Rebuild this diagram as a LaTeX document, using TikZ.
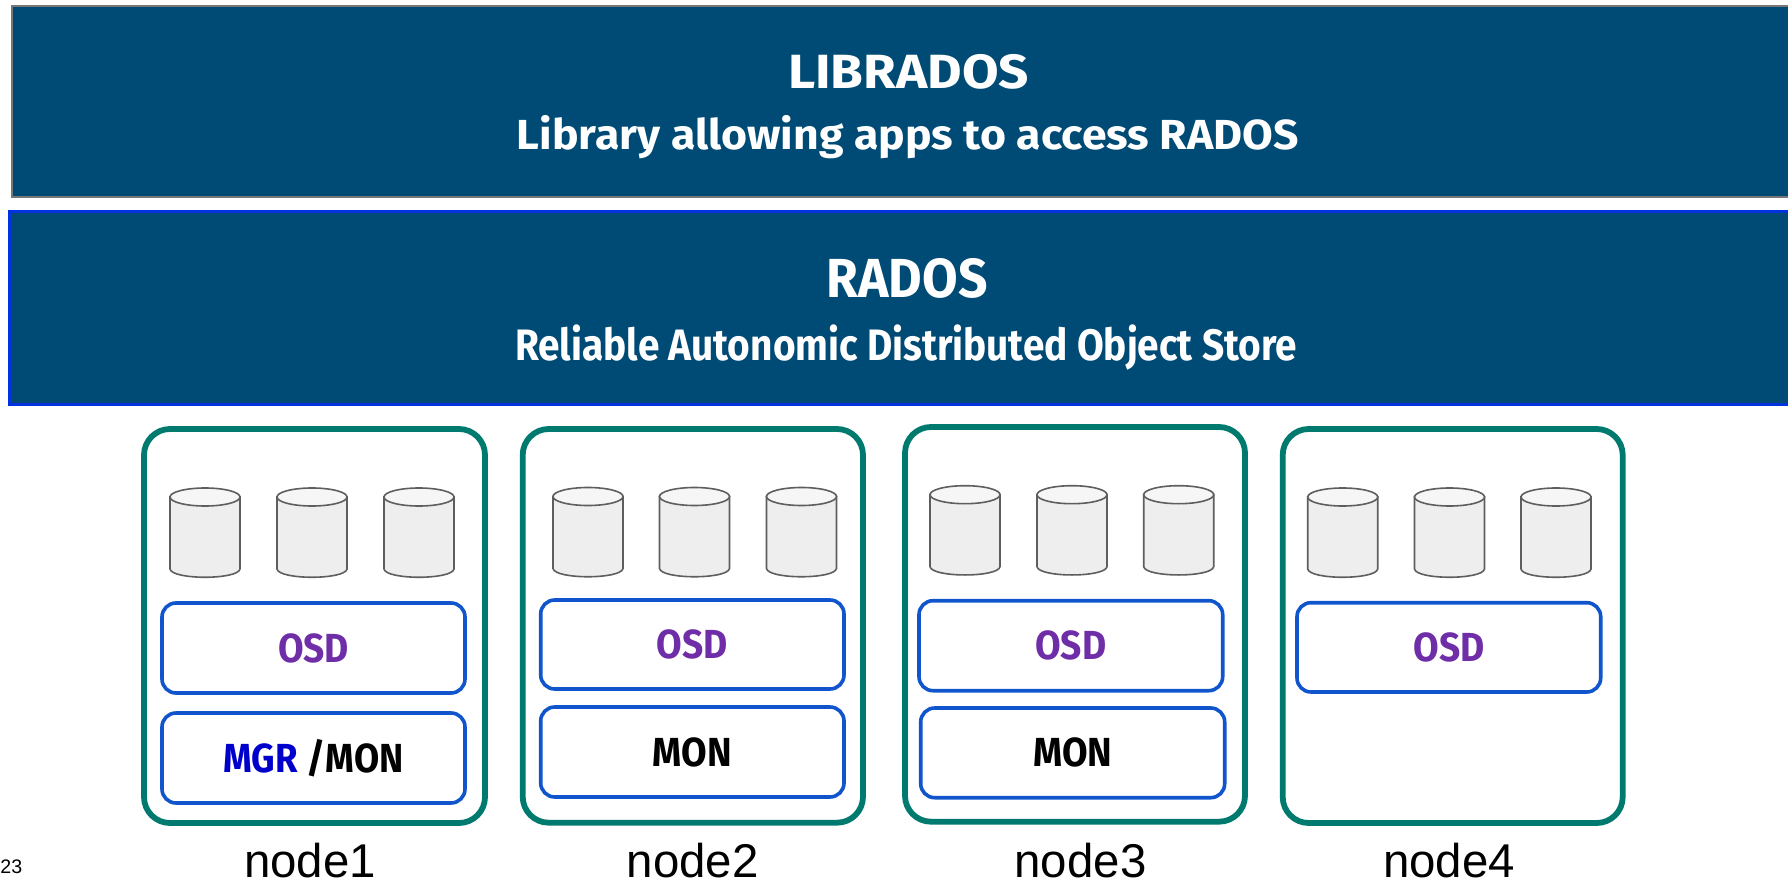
\documentclass[tikz,border=0pt]{standalone}
\usepackage{graphicx}
\usepackage{fontspec}
\usetikzlibrary{shapes.geometric}
\setmainfont{Liberation Sans}
\newfontfamily\plex{Fira Sans}[UprightFont=* Medium,BoldFont=* Bold]
\definecolor{navy}{HTML}{004B75}
\definecolor{tealb}{HTML}{007A6F}
\definecolor{blueb}{HTML}{1155CC}
\definecolor{purp}{HTML}{6F2DA8}
\definecolor{mgrb}{HTML}{0000CD}
\definecolor{cylf}{HTML}{EEEEEE}
\definecolor{cylt}{HTML}{F6F6F6}
\definecolor{cyls}{HTML}{5E5E5E}
\definecolor{libline}{HTML}{777777}
\definecolor{radline}{HTML}{0033DD}
\newcommand{\fitw}[2]{\resizebox{#1}{\height}{#2}}
% name, x1, y1, x2, y2, style, text
\newcommand{\bx}[7]{%
  \pgfmathsetmacro{\bw}{(#4-#2)*0.5}%
  \pgfmathsetmacro{\bh}{(#5-#3)*0.5}%
  \node[#6,minimum width=\bw pt,minimum height=\bh pt] (#1) at ({(#2+#4)/2},{(#3+#5)/2}) {#7};%
}
% name, left x, top y
\newcommand{\cyl}[3]{%
  \fill[cylf,draw=cyls,line width=0.8pt] (#2,#3+9) -- (#2,#3+81) .. controls (#2+2,#3+92) and (#2+68,#3+92) .. (#2+70,#3+81) -- (#2+70,#3+9) -- cycle;
  \node[ellipse,draw=cyls,fill=cylt,line width=0.8pt,minimum width=35pt,minimum height=9pt,inner sep=0pt] (#1) at (#2+35,#3+9) {};%
}
\begin{document}
\begin{tikzpicture}[x=0.5pt,y=-0.5pt,
  hostbox/.style={draw=tealb,line width=2.9pt,rounded corners=13pt,inner sep=0pt},
  svcbox/.style={draw=blueb,line width=1.8pt,rounded corners=7pt,inner sep=0pt,
     font=\plex\bfseries\fontsize{20.3}{20.3}\selectfont,text height=14pt,text depth=0pt},
  hosttext/.style={font=\fontsize{23.7}{23.7}\selectfont,inner sep=0pt,anchor=base},
  titletext/.style={font=\plex\bfseries,text=white,inner sep=0pt,anchor=base},
  layerbox/.style={fill=navy,inner sep=0pt}]
\useasboundingbox (0,0) rectangle (1788,882);
\fill[white] (0,0) rectangle (1788,882);
\bx{lib}{11.5}{6}{1820}{197}{layerbox,draw=libline,line width=1pt}{}
\bx{rad}{9.5}{211.5}{1820}{404.5}{layerbox,draw=radline,line width=1.1pt}{}
\node[titletext] (t1) at (908.5,89) {\fontsize{24}{24}\selectfont\fitw{120.5pt}{LIBRADOS}};
\node[titletext] (t2) at (908,149.5) {\fontsize{21}{21}\selectfont\fitw{391pt}{Library allowing apps to access RADOS}};
\node[titletext] (t3) at (907,298) {\fontsize{27.5}{27.5}\selectfont\fitw{80.5pt}{RADOS}};
\node[titletext] (t4) at (906,360.7) {\fontsize{22}{22}\selectfont\fitw{391pt}{Reliable Autonomic Distributed Object Store}};
% node1
\bx{h1}{144}{429}{485}{823}{hostbox}{}
\cyl{c1a}{170}{488}\cyl{c1b}{277}{488}\cyl{c1c}{384}{488}
\bx{o1}{162}{603}{465}{693}{svcbox,text=purp}{\fitw{35.5pt}{OSD}}
\bx{m1}{162}{713}{465}{803}{svcbox}{\fitw{90pt}{\textcolor{mgrb}{MGR} /MON}}
\node[hosttext] (n1) at (310,877) {node1};
\node[font=\fontsize{9.8}{9.8}\selectfont,inner sep=0pt,anchor=base west] (yr) at (0,873) {23};
% node2
\bx{h2}{522.7}{429}{863}{822.7}{hostbox}{}
\cyl{c2a}{553}{487.5}\cyl{c2b}{659.5}{487.5}\cyl{c2c}{766.5}{487.5}
\bx{o2}{540.7}{600}{844}{689}{svcbox,text=purp}{\fitw{35.5pt}{OSD}}
\bx{m2}{540.7}{707}{844}{797}{svcbox}{\fitw{39.5pt}{MON}}
\node[hosttext] (n2) at (692.7,877) {node2};
% node3
\bx{h3}{905}{427}{1245}{821.7}{hostbox}{}
\cyl{c3a}{930}{485.7}\cyl{c3b}{1037}{485.7}\cyl{c3c}{1143.7}{485.7}
\bx{o3}{919}{600.7}{1222.7}{690.7}{svcbox,text=purp}{\fitw{35.5pt}{OSD}}
\bx{m3}{920.7}{708}{1224.7}{797.7}{svcbox}{\fitw{39.5pt}{MON}}
\node[hosttext] (n3) at (1080.5,877) {node3};
% node4
\bx{h4}{1282.7}{429}{1622.7}{823}{hostbox}{}
\cyl{c4a}{1307.7}{488}\cyl{c4b}{1414.5}{488}\cyl{c4c}{1521}{488}
\bx{o4}{1297}{602.7}{1600.7}{692}{svcbox,text=purp}{\fitw{35.5pt}{OSD}}
\node[hosttext] (n4) at (1449,877) {node4};
\end{tikzpicture}
\end{document}
